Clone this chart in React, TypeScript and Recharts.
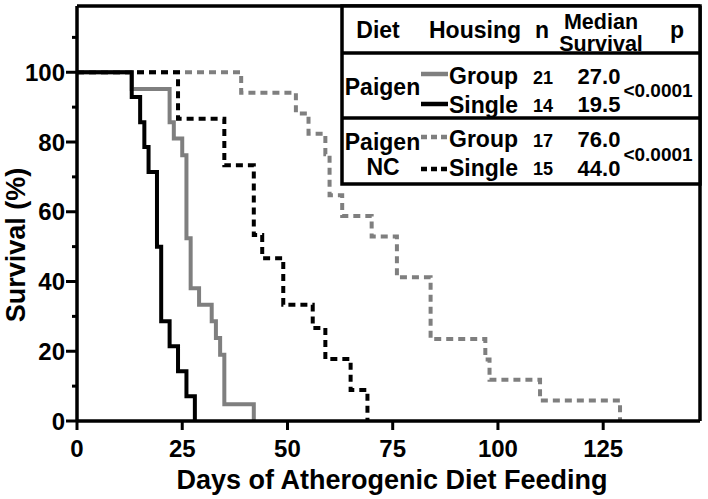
import { LineChart, Line, XAxis, YAxis, ReferenceLine } from 'recharts';

document.body.style.margin = '0';

const GRAY = '#7f7f7f';
const FONT = '"Liberation Sans", Arial, Helvetica, sans-serif';

// Kaplan-Meier steps: day of drop -> survival (%) after it
const paigenGroupDays = [0, 13, 22, 23, 25, 26, 27, 29, 32, 33, 34, 35, 42];
const paigenGroupSurv = [100, 95.2, 85.7, 81.0, 76.2, 52.4, 38.1, 33.3, 28.6, 23.8, 19.0, 4.8, 0];

const paigenSingleDays = [0, 13, 15, 16, 17, 19, 20, 22, 24, 26, 28];
const paigenSingleSurv = [100, 92.9, 85.7, 78.6, 71.4, 50, 28.6, 21.4, 14.3, 7.1, 0];

const ncGroupDays = [0, 39, 52, 55, 59, 60, 63, 70, 76, 84, 97, 98, 110, 129];
const ncGroupSurv = [100, 94.1, 88.2, 82.4, 76.5, 64.7, 58.8, 52.9, 41.2, 23.5, 17.6, 11.8, 5.9, 0];

const ncSingleDays = [0, 24, 35, 42, 44, 49, 56, 59, 65, 69];
const ncSingleSurv = [100, 86.7, 73.3, 53.3, 46.7, 33.3, 26.7, 17.8, 8.9, 0];

const xTicks = [0, 25, 50, 75, 100, 125];
const yTicks = [0, 10, 20, 30, 40, 50, 60, 70, 80, 90, 100, 110];
const yLabelled = [0, 20, 40, 60, 80, 100];

const xMax = 148;
const yMax = 119;

const toPoints = (days: number[], surv: number[]) =>
  days.map((d, i) => ({ day: d, s: surv[i] }));

function XTick({ x, y, payload }: any) {
  return (
    <g>
      <line x1={x} x2={x} y1={y} y2={y + 9} stroke="#000" strokeWidth={3} />
      <text x={x} y={y + 35.5} textAnchor="middle" fontFamily={FONT} fontWeight="bold"
            fontSize={24} fill="#000">{payload.value}</text>
    </g>
  );
}

function YTick({ x, y, payload }: any) {
  const major = yLabelled.includes(payload.value);
  return (
    <g>
      <line x1={x - (major ? 11 : 5)} x2={x} y1={y} y2={y} stroke="#000" strokeWidth={3} />
      {major && (
        <text x={x - 12} y={y + 8.5} textAnchor="end" fontFamily={FONT} fontWeight="bold"
              fontSize={24} fill="#000">{payload.value}</text>
      )}
    </g>
  );
}

const txt = { fontFamily: FONT, fontWeight: 'bold' as const, fill: '#000' };

function Overlay() {
  return (
    <svg width={708} height={499} style={{ position: 'absolute', left: 0, top: 0 }}>
      <text x={25} y={245} transform="rotate(-90 25 245)" textAnchor="middle" fontSize={27} {...txt}>
        Survival (%)
      </text>
      <text x={392} y={489} textAnchor="middle" fontSize={27} {...txt}>
        Days of Atherogenic Diet Feeding
      </text>

      <rect x={342} y={6} width={358} height={178} fill="#fff" stroke="#000" strokeWidth={3.5} />
      <line x1={342} x2={700} y1={53} y2={53} stroke="#000" strokeWidth={3.5} />
      <line x1={342} x2={700} y1={118} y2={118} stroke="#000" strokeWidth={3.5} />

      <text x={378} y={38} textAnchor="middle" fontSize={23} {...txt}>Diet</text>
      <text x={475} y={38} textAnchor="middle" fontSize={23} {...txt}>Housing</text>
      <text x={542} y={38} textAnchor="middle" fontSize={23} {...txt}>n</text>
      <text x={601} y={28.5} textAnchor="middle" fontSize={21.5} {...txt}>Median</text>
      <text x={601} y={51} textAnchor="middle" fontSize={21.5} {...txt}>Survival</text>
      <text x={677} y={38} textAnchor="middle" fontSize={23} {...txt}>p</text>

      <text x={382.5} y={95} textAnchor="middle" fontSize={23} {...txt}>Paigen</text>
      <line x1={421} x2={448} y1={74} y2={74} stroke={GRAY} strokeWidth={4.5} />
      <line x1={421} x2={448} y1={104} y2={104} stroke="#000" strokeWidth={4.5} />
      <text x={449} y={84} fontSize={23} {...txt}>Group</text>
      <text x={449} y={112.5} fontSize={23} {...txt}>Single</text>
      <text x={543} y={83.5} textAnchor="middle" fontSize={18} {...txt}>21</text>
      <text x={543} y={112} textAnchor="middle" fontSize={18} {...txt}>14</text>
      <text x={599} y={83.5} textAnchor="middle" fontSize={22} {...txt}>27.0</text>
      <text x={599} y={112} textAnchor="middle" fontSize={22} {...txt}>19.5</text>
      <text x={658} y={97} textAnchor="middle" fontSize={19} {...txt}>&lt;0.0001</text>

      <text x={382.5} y={150} textAnchor="middle" fontSize={23} {...txt}>Paigen</text>
      <text x={383} y={175} textAnchor="middle" fontSize={23} {...txt}>NC</text>
      <line x1={421} x2={447} y1={137} y2={137} stroke={GRAY} strokeWidth={4.5} strokeDasharray="6 4" />
      <line x1={421} x2={447} y1={169} y2={169} stroke="#000" strokeWidth={4.5} strokeDasharray="6 4" />
      <text x={449} y={147} fontSize={23} {...txt}>Group</text>
      <text x={449} y={176} fontSize={23} {...txt}>Single</text>
      <text x={543} y={147} textAnchor="middle" fontSize={18} {...txt}>17</text>
      <text x={543} y={175} textAnchor="middle" fontSize={18} {...txt}>15</text>
      <text x={599} y={147} textAnchor="middle" fontSize={22} {...txt}>76.0</text>
      <text x={599} y={176} textAnchor="middle" fontSize={22} {...txt}>44.0</text>
      <text x={658} y={160.5} textAnchor="middle" fontSize={19} {...txt}>&lt;0.0001</text>
    </svg>
  );
}

export default function App() {
  return (
    <div style={{ position: 'relative', width: 708, height: 499, background: '#fff' }}>
      <LineChart width={708} height={499} margin={{ top: 6, right: 8, left: 0, bottom: 0 }}>
        <XAxis type="number" dataKey="day" domain={[0, xMax]} ticks={xTicks} height={78}
               axisLine={{ stroke: '#000', strokeWidth: 3.5 }} tickLine={false} tickSize={0}
               tickMargin={0} tick={<XTick />} allowDataOverflow />
        <YAxis type="number" domain={[0, yMax]} ticks={yTicks} width={77}
               axisLine={{ stroke: '#000', strokeWidth: 3.5 }} tickLine={false} tickSize={0}
               tickMargin={0} tick={<YTick />} allowDataOverflow />
        <ReferenceLine y={yMax} stroke="#000" strokeWidth={3.5} />
        <ReferenceLine x={xMax} stroke="#000" strokeWidth={3.5} />
        <Line data={toPoints(ncGroupDays, ncGroupSurv)} dataKey="s" type="stepAfter" stroke={GRAY}
              strokeWidth={4} strokeDasharray="7 5" dot={false} isAnimationActive={false} />
        <Line data={toPoints(ncSingleDays, ncSingleSurv)} dataKey="s" type="stepAfter" stroke="#000"
              strokeWidth={4} strokeDasharray="7 5" dot={false} isAnimationActive={false} />
        <Line data={toPoints(paigenGroupDays, paigenGroupSurv)} dataKey="s" type="stepAfter" stroke={GRAY}
              strokeWidth={4} dot={false} isAnimationActive={false} />
        <Line data={toPoints(paigenSingleDays, paigenSingleSurv)} dataKey="s" type="stepAfter" stroke="#000"
              strokeWidth={4} dot={false} isAnimationActive={false} />
      </LineChart>
      <Overlay />
    </div>
  );
}
